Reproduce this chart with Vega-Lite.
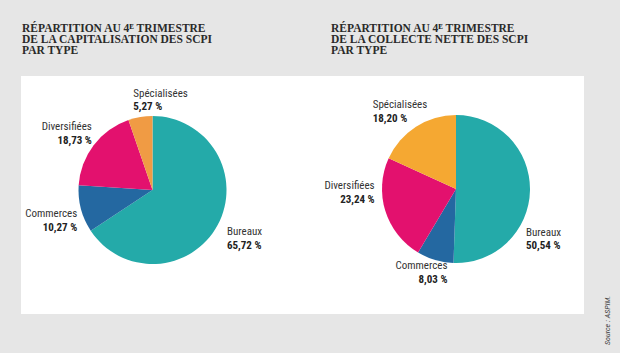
{
  "$schema": "https://vega.github.io/schema/vega-lite/v6.json",
  "background": "#e6e6e6",
  "padding": {"left": 21, "top": 22, "right": 8, "bottom": 37},
  "datasets": {
    "capi": [
      {"chart": "capi", "type": "Bureaux", "value": 65.72, "order": 1},
      {"chart": "capi", "type": "Commerces", "value": 10.27, "order": 2},
      {"chart": "capi", "type": "Diversifiées", "value": 18.73, "order": 3},
      {"chart": "capi", "type": "Spécialisées", "value": 5.27, "order": 4}
    ],
    "collecte": [
      {"chart": "collecte", "type": "Bureaux", "value": 50.54, "order": 1},
      {"chart": "collecte", "type": "Commerces", "value": 8.03, "order": 2},
      {"chart": "collecte", "type": "Diversifiées", "value": 23.24, "order": 3},
      {"chart": "collecte", "type": "Spécialisées", "value": 18.20, "order": 4}
    ]
  },
  "title": {
    "text": "Source : ASPIM.",
    "orient": "right",
    "anchor": "end",
    "align": "left",
    "angle": -90,
    "dx": -31,
    "offset": 12,
    "font": "Roboto Condensed, Liberation Sans Narrow, Liberation Sans, sans-serif",
    "fontSize": 8,
    "fontStyle": "italic",
    "fontWeight": "normal",
    "lineHeight": 8,
    "color": "#444444"
  },
  "spacing": 0,
  "hconcat": [
    {
      "width": 281,
      "height": 238,
      "title": {
        "text": ["RÉPARTITION AU 4ᴱ TRIMESTRE", "DE LA CAPITALISATION DES SCPI", "PAR TYPE"],
        "anchor": "start",
        "dx": 1,
        "offset": 20
      },
      "data": {"name": "capi"},
      "transform": [{"calculate": "replace(format(datum.value, '.2f'), '.', ',') + ' %'", "as": "pct"}],
      "encoding": {
        "x": {"field": "chart", "type": "nominal", "axis": null, "scale": {"type": "point", "range": [0, 263]}},
        "y": {"field": "chart", "type": "nominal", "axis": null, "scale": {"type": "point", "range": [0, 228]}},
        "theta": {"field": "value", "type": "quantitative", "stack": true},
        "order": {"field": "order", "type": "quantitative"}
      },
      "layer": [
        {
          "mark": {"type": "arc", "outerRadius": 74},
          "encoding": {
            "color": {
              "field": "type", "type": "nominal", "legend": null,
              "scale": {"domain": ["Bureaux", "Commerces", "Diversifiées", "Spécialisées"], "range": ["#24aaa9", "#2468a1", "#e3116e", "#f09b44"]}
            }
          }
        },
        {
          "mark": {
            "type": "text", "radius": 80, "baseline": "middle",
            "align": {"expr": "datum.type == 'Bureaux' || datum.type == 'Spécialisées' ? 'left' : 'right'"},
            "dx": {"expr": "datum.type == 'Bureaux' ? 4 : datum.type == 'Commerces' ? 2 : datum.type == 'Diversifiées' ? 3 : -6"},
            "dy": {"expr": "(datum.type == 'Bureaux' ? 11 : datum.type == 'Commerces' ? 10 : datum.type == 'Diversifiées' ? -8 : -11) - 6.5"},
            "font": "Roboto Condensed, Liberation Sans Narrow, Liberation Sans, sans-serif", "fontSize": 11, "color": "#333333"
          },
          "encoding": {"text": {"field": "type"}}
        },
        {
          "mark": {
            "type": "text", "radius": 80, "baseline": "middle",
            "align": {"expr": "datum.type == 'Bureaux' || datum.type == 'Spécialisées' ? 'left' : 'right'"},
            "dx": {"expr": "datum.type == 'Bureaux' ? 4 : datum.type == 'Commerces' ? 2 : datum.type == 'Diversifiées' ? 3 : -6"},
            "dy": {"expr": "(datum.type == 'Bureaux' ? 11 : datum.type == 'Commerces' ? 10 : datum.type == 'Diversifiées' ? -8 : -11) + 7"},
            "font": "Roboto Condensed, Liberation Sans Narrow, Liberation Sans, sans-serif", "fontSize": 11, "fontWeight": "bold", "color": "#222222"
          },
          "encoding": {"text": {"field": "pct"}}
        }
      ]
    },
    {
      "width": 282,
      "height": 238,
      "title": {
        "text": ["RÉPARTITION AU 4ᴱ TRIMESTRE", "DE LA COLLECTE NETTE DES SCPI", "PAR TYPE"],
        "anchor": "start",
        "dx": 29,
        "offset": 20
      },
      "data": {"name": "collecte"},
      "transform": [{"calculate": "replace(format(datum.value, '.2f'), '.', ',') + ' %'", "as": "pct"}],
      "encoding": {
        "x": {"field": "chart", "type": "nominal", "axis": null, "scale": {"type": "point", "range": [0, 308]}},
        "y": {"field": "chart", "type": "nominal", "axis": null, "scale": {"type": "point", "range": [0, 226]}},
        "theta": {"field": "value", "type": "quantitative", "stack": true},
        "order": {"field": "order", "type": "quantitative"}
      },
      "layer": [
        {
          "mark": {"type": "arc", "outerRadius": 74},
          "encoding": {
            "color": {
              "field": "type", "type": "nominal", "legend": null,
              "scale": {"domain": ["Bureaux", "Commerces", "Diversifiées", "Spécialisées"], "range": ["#24aaa9", "#2468a1", "#e3116e", "#f5a832"]}
            }
          }
        },
        {
          "mark": {
            "type": "text", "radius": 80, "baseline": "middle",
            "align": {"expr": "datum.type == 'Bureaux' || datum.type == 'Spécialisées' ? 'left' : 'right'"},
            "dx": {"expr": "datum.type == 'Bureaux' ? -10 : datum.type == 'Commerces' ? 14 : datum.type == 'Diversifiées' ? -5 : -40"},
            "dy": {"expr": "(datum.type == 'Bureaux' ? 49 : datum.type == 'Commerces' ? 7 : datum.type == 'Diversifiées' ? -20 : -10) - 6.5"},
            "font": "Roboto Condensed, Liberation Sans Narrow, Liberation Sans, sans-serif", "fontSize": 11, "color": "#333333"
          },
          "encoding": {"text": {"field": "type"}}
        },
        {
          "mark": {
            "type": "text", "radius": 80, "baseline": "middle",
            "align": {"expr": "datum.type == 'Bureaux' || datum.type == 'Spécialisées' ? 'left' : 'right'"},
            "dx": {"expr": "datum.type == 'Bureaux' ? -10 : datum.type == 'Commerces' ? 14 : datum.type == 'Diversifiées' ? -5 : -40"},
            "dy": {"expr": "(datum.type == 'Bureaux' ? 49 : datum.type == 'Commerces' ? 7 : datum.type == 'Diversifiées' ? -20 : -10) + 7"},
            "font": "Roboto Condensed, Liberation Sans Narrow, Liberation Sans, sans-serif", "fontSize": 11, "fontWeight": "bold", "color": "#222222"
          },
          "encoding": {"text": {"field": "pct"}}
        }
      ]
    }
  ],
  "resolve": {"scale": {"color": "independent", "x": "independent", "y": "independent", "theta": "independent"}},
  "config": {
    "view": {"fill": "white", "stroke": null},
    "title": {
      "font": "Liberation Serif",
      "fontSize": 11.5,
      "fontWeight": "bold",
      "color": "#2a2a2a",
      "lineHeight": 11,
      "frame": "group"
    }
  }
}
